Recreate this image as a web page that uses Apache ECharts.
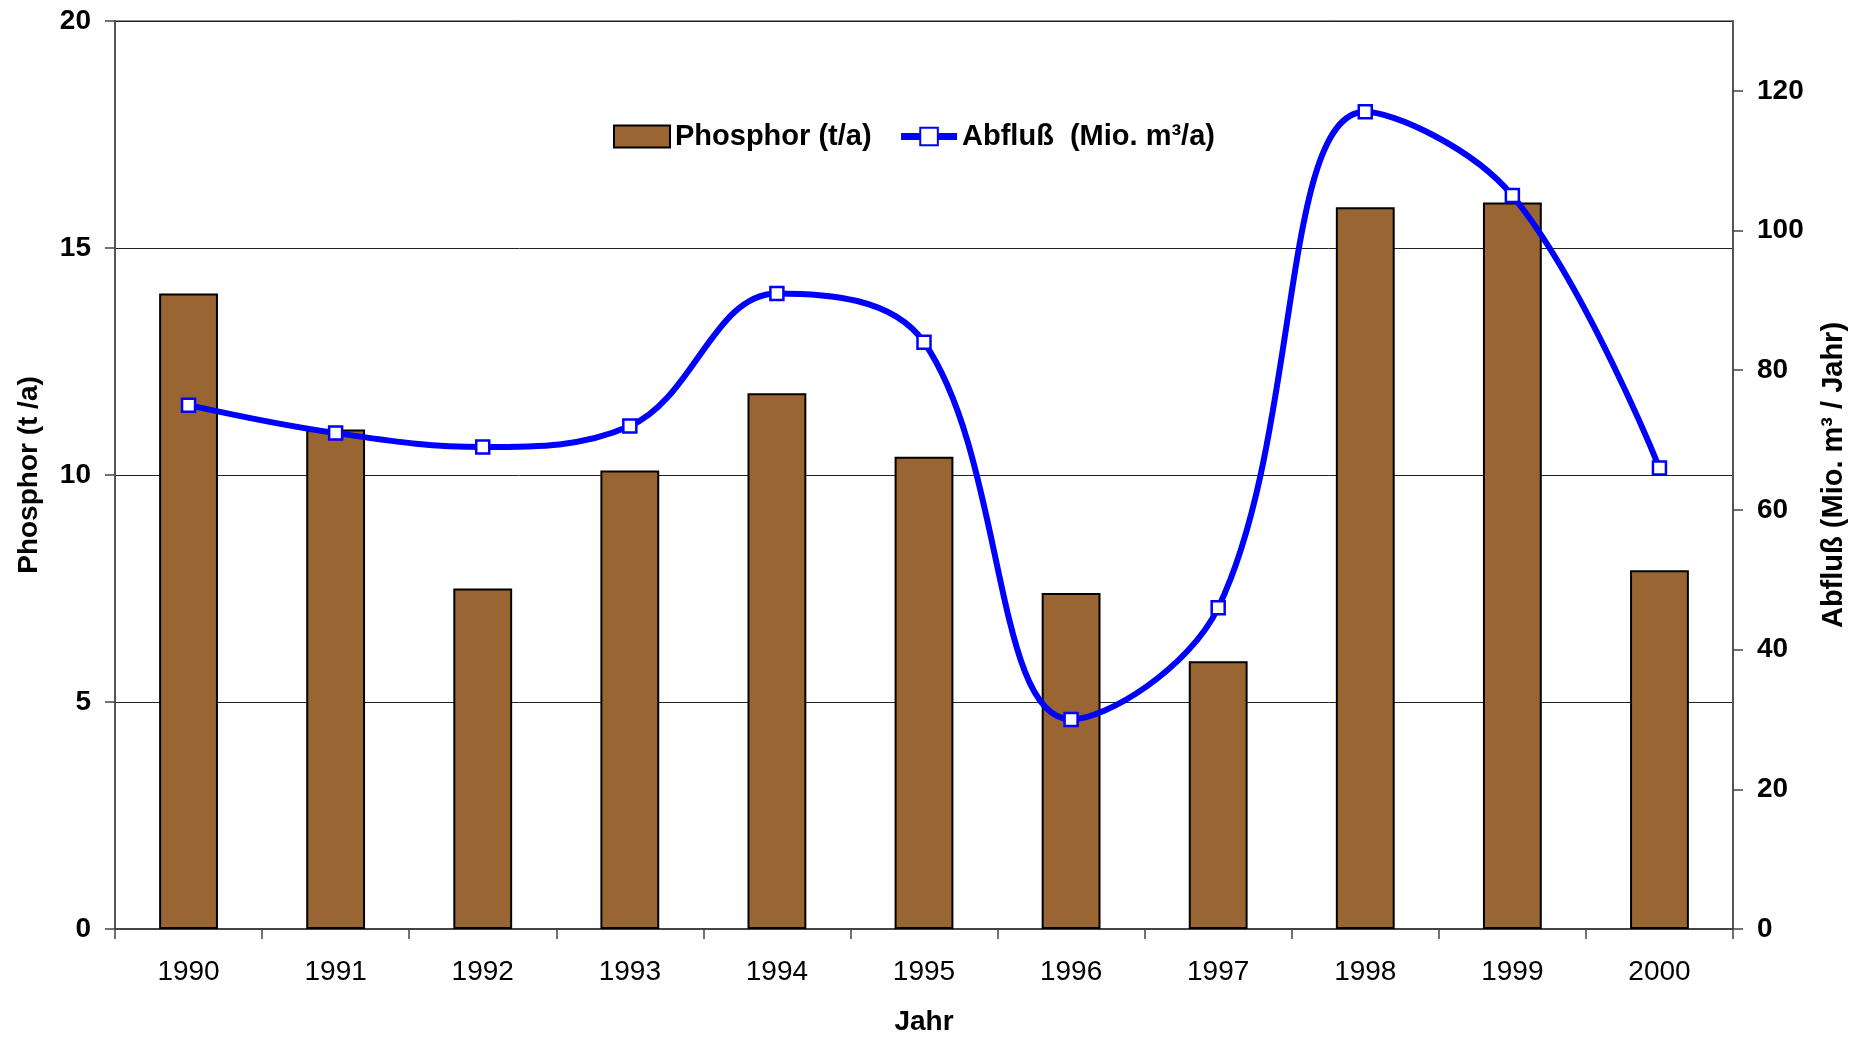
<!DOCTYPE html>
<html>
<head>
<meta charset="utf-8">
<script src="https://cdn.jsdelivr.net/npm/echarts@6/dist/echarts.min.js"></script>
<style>
  html, body { margin: 0; padding: 0; background: #fff; }
  #chart { width: 1863px; height: 1038px; }
</style>
</head>
<body>
<div id="chart"></div>
<script>
// Jahre (Kategorien)
const years = ['1990', '1991', '1992', '1993', '1994', '1995', '1996', '1997', '1998', '1999', '2000'];
// Phosphorfracht in t/a
const phosphor = [14.0, 11.0, 7.5, 10.1, 11.8, 10.4, 7.4, 5.9, 15.9, 16.0, 7.9];
// Abfluss in Mio. m³/a
const abfluss = [75, 71, 69, 72, 91, 84, 30, 46, 117, 105, 66];
// Beschriftete Werte der rechten Achse
const rightTicks = [0, 20, 40, 60, 80, 100, 120];

const FONT = '"Liberation Sans", Arial, sans-serif';
const BLUE = '#0000ff';

const chart = echarts.init(document.getElementById('chart'), null, { renderer: 'canvas' });

chart.setOption({
  animation: false,
  backgroundColor: '#ffffff',
  textStyle: { fontFamily: FONT, color: '#000' },
  grid: {
    left: 115, right: 130, top: 21, bottom: 109,
    outerBoundsMode: 'none',
    show: true, borderColor: '#8a8a8a', borderWidth: 2, backgroundColor: 'transparent'
  },
  legend: {
    left: 608, top: 117,
    itemWidth: 56, itemHeight: 22, itemGap: 26,
    textStyle: { fontFamily: FONT, fontSize: 29, fontWeight: 'bold', color: '#000' },
    data: [
      { name: 'Phosphor (t/a)', icon: 'rect' },
      { name: 'Abfluß  (Mio. m³/a)', lineStyle: { color: BLUE, width: 7 } }
    ]
  },
  xAxis: {
    type: 'category',
    data: years,
    boundaryGap: true,
    name: 'Jahr',
    nameLocation: 'middle',
    nameGap: 79,
    nameTextStyle: { fontFamily: FONT, fontSize: 28, fontWeight: 'bold', color: '#000' },
    axisLine: { lineStyle: { color: '#444', width: 2 } },
    axisTick: { show: true, interval: 0, length: 10, lineStyle: { color: '#444', width: 1.5 } },
    axisLabel: { fontFamily: FONT, fontSize: 28, color: '#000', margin: 29, interval: 0 }
  },
  yAxis: [
    {
      type: 'value',
      min: 0, max: 20, interval: 5,
      position: 'left',
      name: 'Phosphor (t /a)',
      nameLocation: 'middle',
      nameRotate: 90,
      nameGap: 72,
      nameTextStyle: { fontFamily: FONT, fontSize: 28, fontWeight: 'bold', color: '#000' },
      axisLine: { show: true, lineStyle: { color: '#555', width: 2 } },
      axisTick: { show: true, length: 10, lineStyle: { color: '#444', width: 1.5 } },
      axisLabel: { fontFamily: FONT, fontSize: 28, fontWeight: 'bold', color: '#000', margin: 24 },
      splitLine: { show: true, lineStyle: { color: '#222', width: 1 } }
    },
    {
      type: 'value',
      min: 0, max: 130, interval: 20,
      position: 'right',
      name: 'Abfluß (Mio. m³ / Jahr)',
      nameLocation: 'middle',
      nameRotate: 90,
      nameGap: 86,
      nameTextStyle: { fontFamily: FONT, fontSize: 29, fontWeight: 'bold', color: '#000' },
      axisLine: { show: true, lineStyle: { color: '#555', width: 2 } },
      axisTick: { show: true, length: 10, customValues: rightTicks, lineStyle: { color: '#444', width: 1.5 } },
      axisLabel: { fontFamily: FONT, fontSize: 28, fontWeight: 'bold', color: '#000', margin: 24, customValues: rightTicks },
      splitLine: { show: false }
    }
  ],
  series: [
    {
      name: 'Phosphor (t/a)',
      type: 'bar',
      data: phosphor,
      yAxisIndex: 0,
      barWidth: '40%',
      itemStyle: { color: '#996633', borderColor: '#000', borderWidth: 2 },
      z: 2
    },
    {
      name: 'Abfluß  (Mio. m³/a)',
      type: 'line',
      data: abfluss,
      yAxisIndex: 1,
      smooth: 0.38,
      symbol: 'rect',
      symbolSize: 13,
      showAllSymbol: true,
      lineStyle: { color: BLUE, width: 6 },
      itemStyle: { color: '#ffffff', borderColor: BLUE, borderWidth: 2.5 },
      z: 5
    }
  ]
});
</script>
</body>
</html>
